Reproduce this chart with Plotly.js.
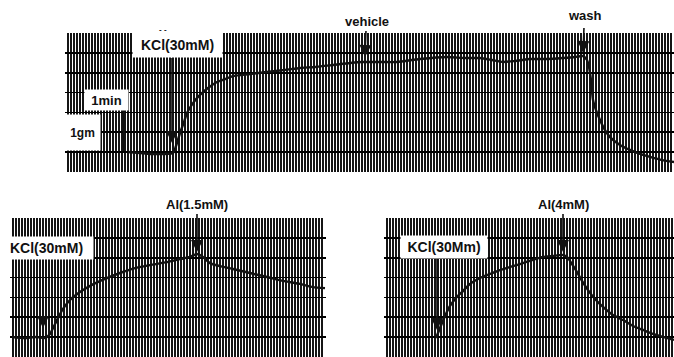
<!DOCTYPE html>
<html>
<head>
<meta charset="utf-8">
<script src="https://cdn.plot.ly/plotly-3.0.1.min.js"></script>
<style>html,body{margin:0;padding:0;background:#fff;}#chart{width:674px;height:357px;}</style>
</head>
<body>
<div id="chart"></div>
<script>
// ---- Data (x: chart-paper position, y: chart divisions) ----
// Top trace: KCl(30mM) -> vehicle -> wash
const topX = [63,75,85,100,108,111,115,119,122,128,135,143,152,160,168,185,202,220,235,250,268,285,298,315,332,355,382,400,415,427,438,450,465,483,498,510,518,522,524,526,528,531,535,540,545,555,565,575,585,597,609];
const topY = [1.01,0.96,0.91,0.91,0.96,1.31,1.96,2.52,2.97,3.47,3.88,4.23,4.53,4.68,4.83,4.93,5.04,5.14,5.24,5.29,5.39,5.49,5.54,5.54,5.54,5.69,5.79,5.74,5.74,5.64,5.54,5.59,5.69,5.69,5.74,5.79,5.84,5.64,5.29,4.63,3.63,3.12,2.62,2.11,1.76,1.36,1.11,0.91,0.76,0.60,0.50];
// Bottom-left trace: KCl(30mM) -> Al(1.5mM)
const blX = [2,15,25,35,40,44,48,53,60,70,82,95,110,125,140,157,170,180,187,193,200,210,223,240,257,273,290,303,315];
const blY = [1.01,0.96,1.01,0.96,1.16,1.56,1.96,2.42,2.87,3.27,3.63,3.93,4.23,4.48,4.63,4.78,4.93,5.04,5.19,5.04,4.73,4.58,4.43,4.23,4.03,3.83,3.68,3.52,3.47];
// Bottom-right trace: KCl(30Mm) -> Al(4mM)
const brX = [52,56,61,66,72,79,86,96,106,116,126,136,148,159,169,178,183,188,193,198,204,211,219,229,239,249,259,269,279,290];
const brY = [0.96,1.46,2.06,2.57,2.97,3.32,3.68,3.98,4.18,4.38,4.53,4.68,4.88,5.04,5.09,5.14,5.04,4.68,4.28,3.83,3.37,2.92,2.52,2.11,1.86,1.56,1.36,1.16,1.01,0.86];
// Labels
const labels = {kclTop:'KCl(30mM)', vehicle:'vehicle', wash:'wash', min:'1min', gm:'1gm', kclBL:'KCl(30mM)', al15:'Al(1.5mM)', kclBR:'KCl(30Mm)', al4:'Al(4mM)'};

// ---- Layout helpers ----
const W = 674, H = 357;
const PX = x => x / W;
const PY = y => 1 - y / H;
const FONT = 'Liberation Sans, Arial, Helvetica, sans-serif';
const INK = '#111';
const GRIDC = '#151515';

function xAx(d0, d1, r) {
  return {domain:[PX(d0), PX(d1)], range:r, dtick:3, tick0:0, showgrid:true, gridcolor:GRIDC, gridwidth:1.5,
          showticklabels:false, ticks:'', zeroline:false, showline:false, fixedrange:true};
}
function yAx(t, b, anchor) {
  return {domain:[PY(b), PY(t)], range:[0,7], dtick:1, tick0:0, showgrid:true, gridcolor:'#000', gridwidth:1.6,
          minor:{dtick:1, tick0:0.09, showgrid:true, gridcolor:'#fff', gridwidth:2, ticks:''},
          showticklabels:false, ticks:'', zeroline:false, showline:false, fixedrange:true, anchor:anchor};
}

const lineStyle = {color:INK, width:2.4, shape:'spline', smoothing:0.6};
const traces = [
  {x:topX, y:topY, xaxis:'x', yaxis:'y', mode:'lines', line:lineStyle, hoverinfo:'skip'},
  {x:blX, y:blY, xaxis:'x2', yaxis:'y2', mode:'lines', line:lineStyle, hoverinfo:'skip'},
  {x:brX, y:brY, xaxis:'x3', yaxis:'y3', mode:'lines', line:lineStyle, hoverinfo:'skip'}
];

function box(text, cx, cy, w, h, size) {
  return {text:'<b>'+text+'</b>', xref:'paper', yref:'paper', x:PX(cx), y:PY(cy), xanchor:'center', yanchor:'middle',
          width:w, height:h, bgcolor:'#fff', showarrow:false, borderpad:0,
          font:{family:FONT, size:size||14, color:INK}};
}
function label(text, cx, cy, size) {
  return {text:'<b>'+text+'</b>', xref:'paper', yref:'paper', x:PX(cx), y:PY(cy), xanchor:'center', yanchor:'middle',
          showarrow:false, font:{family:FONT, size:size||13, color:INK}};
}
function arrow(xr, yr, x, y, ax, ay) {
  return {text:' ', xref:xr, yref:yr, x:x, y:y, ax:ax, ay:ay, showarrow:true, arrowhead:2, arrowsize:1.5,
          arrowwidth:1.6, arrowcolor:INK, font:{size:1}, borderpad:0, standoff:0};
}

const annotations = [
  box(labels.kclTop, 177.5, 45, 89, 24),
  box(labels.min, 106.5, 100, 43, 20, 13),
  box(labels.gm, 82.5, 132.5, 35, 35, 12),
  box(labels.kclBL, 46.5, 248, 93, 22),
  box(labels.kclBR, 444, 247, 86, 22),
  label(labels.vehicle, 367, 21),
  label(labels.wash, 585, 16),
  label(labels.al15, 197, 204),
  label(labels.al4, 563, 204),
  label('- -', 163, 29, 8),
  arrow('x','y', 107, 1.46, 0, -86),
  arrow('x','y', 300, 5.79, 1, -27),
  arrow('x','y', 518, 5.99, 1, -26),
  arrow('x2','y2', 33, 1.46, 0, -69),
  arrow('x2','y2', 187, 5.29, 0, -39),
  arrow('x3','y3', 53, 1.36, 0, -72),
  arrow('x3','y3', 179, 5.29, 0, -39)
];

const shapes = [
  {type:'line', xref:'paper', yref:'paper', x0:PX(124), x1:PX(124), y0:PY(110), y1:PY(151), line:{color:INK, width:2.5}},
  {type:'line', xref:'paper', yref:'paper', x0:PX(100), x1:PX(100), y0:PY(115), y1:PY(149), line:{color:INK, width:2.5}}
];

const layout = {
  width:W, height:H, margin:{l:0, r:0, t:0, b:0}, showlegend:false,
  paper_bgcolor:'#fff', plot_bgcolor:'#fff',
  xaxis: xAx(65, 674, [0, 609]),
  yaxis: yAx(33, 172, 'x'),
  xaxis2: Object.assign(xAx(10, 326, [0, 316]), {anchor:'y2'}),
  yaxis2: yAx(218, 357, 'x2'),
  xaxis3: Object.assign(xAx(384, 674, [0, 290]), {anchor:'y3'}),
  yaxis3: yAx(218, 357, 'x3'),
  annotations: annotations,
  shapes: shapes
};
layout.xaxis.anchor = 'y';

Plotly.newPlot('chart', traces, layout, {staticPlot:true, displayModeBar:false});
</script>
</body>
</html>
